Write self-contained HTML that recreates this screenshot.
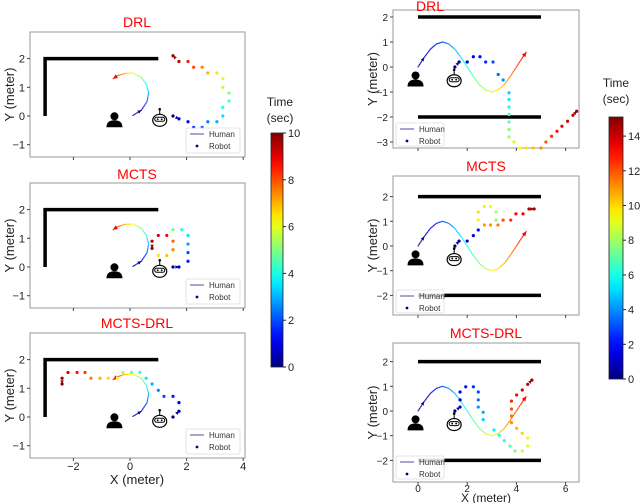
<!DOCTYPE html>
<html><head><meta charset="utf-8"><style>
body{margin:0;background:#fff;}
svg{display:block;font-family:"Liberation Sans","DejaVu Sans",sans-serif;}
</style></head><body>
<svg id="fig" width="640" height="503" viewBox="0 0 640 503" xmlns="http://www.w3.org/2000/svg"></svg>
<script>
// ---------- data ----------
const leftTicksY=[-1,0,1,2];
const leftTicksX=[-2,0,2,4];
const rightTicksY1=[-3,-2,-1,0,1,2];
const rightTicksY=[-2,-1,0,1,2];
const rightTicksX=[0,2,4,6];
const cbLeftTicks=[0,2,4,6,8,10];
const cbRightTicks=[0,2,4,6,8,10,12,14];

const humanArcX=[0.1,0.4,0.6,0.66,0.58,0.4,0.1,-0.2,-0.45,-0.6];
const humanArcY=[0.02,0.2,0.5,0.8,1.1,1.35,1.5,1.48,1.4,1.3];
const humanArcT=[0,1,2,3,4,5,6,7,8,8.8];

const humanSineX=[0,0.25,0.5,0.75,1,1.25,1.5,1.75,2,2.25,2.5,2.75,3,3.25,3.5,3.75,4,4.25,4.4];
const humanSineY=[0,0.38,0.71,0.92,1,0.92,0.71,0.38,0,-0.38,-0.71,-0.92,-1,-0.92,-0.71,-0.38,0,0.38,0.59];
const humanSineT=[0,0.75,1.5,2.25,3,3.75,4.5,5.25,6,6.75,7.5,8.25,9,9.75,10.5,11.25,12,12.8,13.3];

const drlLX=[1.52,1.73,2.05,2.25,2.55,2.75,3.07,3.28,3.28,3.5,3.5,3.28,3.28,3.07,2.75,2.55,2.25,2.05,1.73,1.52];
const drlLY=[0,-0.1,-0.2,-0.4,-0.4,-0.2,-0.2,0,0.3,0.52,0.8,1.0,1.3,1.5,1.5,1.7,1.7,1.9,1.9,2.1];
const drlLT=[0,0.5,1,1.5,2,2.5,3,3.5,4,4.5,5,5.5,6,6.5,7,7.5,8,8.5,9.3,9.8];

const mctsLX=[1.52,1.73,2.05,2.05,2.05,2.05,1.83,1.52,1.0,1.3,1.52,1.52,1.3,1.0,0.78,0.78];
const mctsLY=[0,0,0.2,0.5,0.8,1.1,1.3,1.3,0.4,0.4,0.6,0.9,1.1,1.1,0.9,0.65];
const mctsLT=[0,0.5,1.5,2,2.8,3.5,4.2,4.8,6.5,6.8,7.5,7.8,8.8,9.2,9.6,9.8];

const mdLX=[1.52,1.73,1.73,1.52,1.2,1.0,0.78,0.57,0.35,0.05,-0.25,-0.45,-0.77,-1.06,-1.38,-1.59,-1.87,-2.19,-2.4,-2.4];
const mdLY=[0,0.2,0.5,0.72,0.72,0.93,1.15,1.35,1.55,1.55,1.55,1.35,1.35,1.35,1.35,1.55,1.55,1.55,1.35,1.15];
const mdLT=[0,0.4,1,1.5,2,2.5,3,3.6,4.2,4.8,5.3,6,6.6,7,7.5,8.2,8.6,9,9.6,9.8];

const drlRX=[1.5,1.67,2.0,2.25,2.52,2.75,3.05,3.26,3.46,3.7,3.7,3.7,3.7,3.7,3.7,3.7,3.9,4.14,4.4,4.68,5.0,5.2,5.43,5.65,5.85,6.08,6.3,6.45];
const drlRY=[0,0.2,0.2,0.41,0.41,0.2,0.2,-0.3,-0.52,-1.03,-1.3,-1.6,-1.9,-2.2,-2.5,-2.8,-3.0,-3.24,-3.24,-3.24,-3.24,-3.0,-2.77,-2.57,-2.37,-2.17,-1.93,-1.77];
const drlRT=[0,0.5,1,1.5,2,2.5,3,3.5,4,5,5.5,6,6.5,7,7.5,8,8.7,9.3,9.8,10.3,11,11.8,12.4,12.9,13.3,13.7,14.1,14.5];

const mctsRX=[1.5,1.67,2.0,2.25,2.45,2.45,2.45,2.7,2.95,3.17,3.17,2.7,2.95,3.25,3.46,3.77,3.98,4.27,4.51,4.72];
const mctsRY=[0,0.2,0.2,0.42,0.65,1.05,1.37,1.6,1.6,1.37,1.05,0.85,0.85,0.85,1.05,1.05,1.3,1.3,1.5,1.5];
const mctsRT=[0,0.5,1,1.5,2,9.5,9.8,9.6,9,8.2,7.8,10.8,11,11.3,12,12.4,13,13.4,14,14.5];

const mdRX=[1.5,1.71,1.71,1.71,1.94,2.25,2.45,2.45,2.45,2.65,2.65,3.09,3.3,3.51,3.74,3.94,4.24,4.46,4.46,4.24,4.01,3.8,3.8,3.8,3.8,4.01,4.24,4.46,4.63];
const mdRY=[0,0.16,0.45,0.77,0.98,0.98,0.77,0.45,0.16,-0.05,-0.35,-0.77,-0.98,-1.2,-1.42,-1.62,-1.62,-1.42,-1.1,-0.9,-0.7,-0.47,-0.2,0.08,0.4,0.65,0.85,1.08,1.25];
const mdRT=[0,0.5,1,1.5,2,2.5,3,3.5,4,4.5,5,5.5,6,6.5,7,7.5,8.5,9,9.5,10,10.5,11,11.5,12,12.5,13,13.5,14,14.5];

// ---------- helpers ----------
const svg=document.getElementById('fig');
const NS='http://www.w3.org/2000/svg';
function mk(tag,attrs,parent){const e=document.createElementNS(NS,tag);for(const k in attrs)e.setAttribute(k,attrs[k]);(parent||svg).appendChild(e);return e;}
function jet(t){const c=v=>Math.round(255*Math.max(0,Math.min(1,v)));return `rgb(${c(1.5-Math.abs(4*t-3))},${c(1.5-Math.abs(4*t-2))},${c(1.5-Math.abs(4*t-1))})`;}
function txt(x,y,s,size,attrs,parent){const e=mk('text',Object.assign({x:x,y:y,'font-size':size,fill:'#222'},attrs||{}),parent);e.textContent=s;return e;}

function humanIcon(g,cx,cy){
  mk('circle',{cx:cx,cy:cy-4,r:4,fill:'#000'},g);
  mk('path',{d:`M${cx-8},${cy+7} Q${cx-8},${cy} ${cx},${cy} Q${cx+8},${cy} ${cx+8},${cy+7} Z`,fill:'#000'},g);
}
function robotIcon(g,cx,cy){
  mk('line',{x1:cx,y1:cy-10,x2:cx,y2:cy-6,stroke:'#000','stroke-width':1},g);
  mk('circle',{cx:cx,cy:cy-11,r:1.3,fill:'#000'},g);
  mk('ellipse',{cx:cx,cy:cy,rx:7,ry:6,fill:'#fff',stroke:'#000','stroke-width':1.2},g);
  mk('rect',{x:cx-5,y:cy-3,width:10,height:4,rx:2,fill:'none',stroke:'#000','stroke-width':1},g);
  mk('circle',{cx:cx-2,cy:cy-1,r:0.9,fill:'#000'},g);
  mk('circle',{cx:cx+2,cy:cy-1,r:0.9,fill:'#000'},g);
}
function arrowHead(g,x1,y1,x2,y2,color,size){
  const a=Math.atan2(y2-y1,x2-x1),s=size||4;
  mk('polygon',{points:`${x2},${y2} ${x2-s*Math.cos(a-0.45)},${y2-s*Math.sin(a-0.45)} ${x2-s*Math.cos(a+0.45)},${y2-s*Math.sin(a+0.45)}`,fill:color},g);
}

function panel(p){
  const g=mk('g',{});
  
  
  const sx=v=>p.ox+p.kx*v, sy=v=>p.oy-p.ky*v;
  mk('rect',{x:p.fx0,y:p.fy0,width:p.fx1-p.fx0,height:p.fy1-p.fy0,fill:'#fff',stroke:'#999','stroke-width':1},g);
  p.ticksY.forEach(v=>{
    mk('line',{x1:p.fx0-3,x2:p.fx0,y1:sy(v),y2:sy(v),stroke:'#444'},g);
    const t=txt(p.fx0-5,sy(v)+4,(v<0?'\u2212':'')+Math.abs(v),p.tickSize,{'text-anchor':'end'},g);
    
    
  });
  p.ticksX.forEach(v=>{
    mk('line',{x1:sx(v),x2:sx(v),y1:p.fy1,y2:p.fy1+3,stroke:'#444'},g);
    if(p.showX){const t=txt(sx(v),p.fy1+p.xlOff,(v<0?'\u2212':'')+Math.abs(v),p.tickSize,{'text-anchor':'middle'},g);
      
      }
  });
  const w=mk('polyline',{points:p.walls.map(q=>sx(q[0])+','+sy(q[1])).join(' '),fill:'none',stroke:'#000','stroke-width':3.5},g);
  
  
  if(p.walls2){const w2=mk('polyline',{points:p.walls2.map(q=>sx(q[0])+','+sy(q[1])).join(' '),fill:'none',stroke:'#000','stroke-width':3.5},g);
    
    }
  const hg=mk('g',{},g);
  
  
  for(let i=0;i<p.hx.length-1;i++){
    for(let k=0;k<4;k++){
      const f0=k/4,f1=(k+1)/4;
      const x0=p.hx[i]+(p.hx[i+1]-p.hx[i])*f0,y0=p.hy[i]+(p.hy[i+1]-p.hy[i])*f0;
      const x1=p.hx[i]+(p.hx[i+1]-p.hx[i])*f1,y1=p.hy[i]+(p.hy[i+1]-p.hy[i])*f1;
      const t=p.ht[i]+(p.ht[i+1]-p.ht[i])*(f0+f1)/2;
      mk('line',{x1:sx(x0),y1:sy(y0),x2:sx(x1),y2:sy(y1),stroke:jet(t/p.tmax),'stroke-width':1.2,'stroke-opacity':0.75,'stroke-linecap':'round'},hg);
    }
  }
  const n=p.hx.length;
  arrowHead(hg,sx(p.hx[0]),sy(p.hy[0]),sx(p.hx[1]),sy(p.hy[1]),jet(0),4);
  arrowHead(hg,sx(p.hx[n-2]),sy(p.hy[n-2]),sx(p.hx[n-1]),sy(p.hy[n-1]),jet(p.ht[n-1]/p.tmax),5);
  const rg=mk('g',{},g);
  
  
  for(let i=0;i<p.rx.length;i++){
    const c=mk('circle',{cx:sx(p.rx[i]),cy:sy(p.ry[i]),r:1.6,fill:jet(p.rt[i]/p.tmax)},rg);
    
    
  }
  arrowHead(rg,sx(p.rx[0]),sy(p.ry[0]),sx(p.rx[1]),sy(p.ry[1]),jet(p.rt[1]/p.tmax),4);
  const m=p.rx.length;
  arrowHead(rg,sx(p.rx[m-2]),sy(p.ry[m-2]),sx(p.rx[m-1]),sy(p.ry[m-1]),jet(p.rt[m-1]/p.tmax),4);
  const hi=mk('g',{},g);
  humanIcon(hi,sx(p.hic[0]),sy(p.hic[1]));
  const ri=mk('g',{},g);
  robotIcon(ri,sx(p.ric[0]),sy(p.ric[1]));
  const L=p.legend;const lg=mk('g',{},g);
  
  
  mk('rect',{x:L[0],y:L[1],width:L[2],height:L[3],fill:'#fff','fill-opacity':0.85,stroke:'#ddd','stroke-width':0.8,rx:2},lg);
  mk('line',{x1:L[0]+4,x2:L[0]+18,y1:L[1]+6,y2:L[1]+6,stroke:'#6a6ab8','stroke-width':1.2},lg);
  txt(L[0]+23,L[1]+9,'Human',8,{fill:'#333'},lg);
  mk('circle',{cx:L[0]+11,cy:L[1]+18,r:1.4,fill:'#00008b'},lg);
  txt(L[0]+23,L[1]+21,'Robot',8,{fill:'#333'},lg);
  const tt=txt(p.title[1],p.title[2],p.title[0],14,{fill:'#f00','text-anchor':'middle'},g);
  
  
  const yl=txt(0,0,'Y (meter)',13,{'text-anchor':'middle',transform:`translate(${p.ylx},${(p.fy0+p.fy1)/2}) rotate(-90)`},g);
  
  
}

const leftWalls=[[-3,0],[-3,2],[1,2]];
const base={fx0:30,fx1:245,ox:130,kx:28.3,ky:28.7,ticksY:leftTicksY,ticksX:leftTicksX,walls:leftWalls,hx:humanArcX,hy:humanArcY,ht:humanArcT,tmax:10,tickSize:11,xlOff:12,hic:[-0.55,-0.15],ric:[1.05,-0.15],ylx:14};
panel(Object.assign({},base,{name:'drl-left-panel',fy0:32,fy1:157,oy:116,rx:drlLX,ry:drlLY,rt:drlLT,showX:false,legend:[186,128,54,25],title:['DRL',137,27]}));
panel(Object.assign({},base,{name:'mcts-left-panel',fy0:183,fy1:308,oy:267,rx:mctsLX,ry:mctsLY,rt:mctsLT,showX:false,legend:[186,279,54,25],title:['MCTS',137,179]}));
panel(Object.assign({},base,{name:'mcts-drl-left-panel',fy0:333,fy1:458,oy:417,rx:mdLX,ry:mdLY,rt:mdLT,showX:true,legend:[186,429,54,25],title:['MCTS-DRL',137,328]}));

const rbase={fx0:393,fx1:579,ox:418,kx:24.6,ky:24.7,ticksX:rightTicksX,walls:[[0,2],[5,2]],walls2:[[0,-2],[5,-2]],hx:humanSineX,hy:humanSineY,ht:humanSineT,tmax:15,tickSize:10,xlOff:10,hic:[-0.1,-0.5],ric:[1.47,-0.55],ylx:377};
panel(Object.assign({},rbase,{name:'drl-right-panel',fy0:10,fy1:148,oy:67,ky:25,ticksY:rightTicksY1,rx:drlRX,ry:drlRY,rt:drlRT,showX:false,legend:[396,123,48,23],title:['DRL',430,11]}));
panel(Object.assign({},rbase,{name:'mcts-right-panel',fy0:176,fy1:315,oy:246,ticksY:rightTicksY,rx:mctsRX,ry:mctsRY,rt:mctsRT,showX:false,legend:[396,290,48,23],title:['MCTS',486,171]}));
panel(Object.assign({},rbase,{name:'mcts-drl-right-panel',fy0:343,fy1:482,oy:411,ticksY:rightTicksY,rx:mdRX,ry:mdRY,rt:mdRT,showX:true,legend:[396,456,48,23],title:['MCTS-DRL',486,338]}));

let xt=txt(137,484,'X (meter)',13,{'text-anchor':'middle'});


xt=txt(486,502,'X (meter)',12,{'text-anchor':'middle'});



function colorbar(name,x,w,yTop,yBot,ticks,ky0,kyPer,lx,ly1,ly2,id){
  const g=mk('g',{});
  
  
  const defs=mk('defs',{},g);
  const lgd=mk('linearGradient',{id:id,x1:0,y1:1,x2:0,y2:0},defs);
  for(let i=0;i<=20;i++)mk('stop',{offset:i/20,'stop-color':jet(i/20)},lgd);
  mk('rect',{x:x,y:yTop,width:w,height:yBot-yTop,fill:`url(#${id})`,stroke:'#222','stroke-width':0.8},g);
  ticks.forEach(v=>{const y=ky0-kyPer*v;
    mk('line',{x1:x+w,x2:x+w+3,y1:y,y2:y,stroke:'#222'},g);
    txt(x+w+5,y+4,String(v),11,{},g);});
  txt(lx,ly1,'Time',12,{'text-anchor':'middle'},g);
  txt(lx,ly2,'(sec)',12,{'text-anchor':'middle'},g);
}
colorbar('colorbar-left',271,12,133,367,cbLeftTicks,367,23.4,280,106,122,'jl');
colorbar('colorbar-right',609,14,117,379,cbRightTicks,379,17.35,616,87,103,'jr');
</script>
</body></html>
